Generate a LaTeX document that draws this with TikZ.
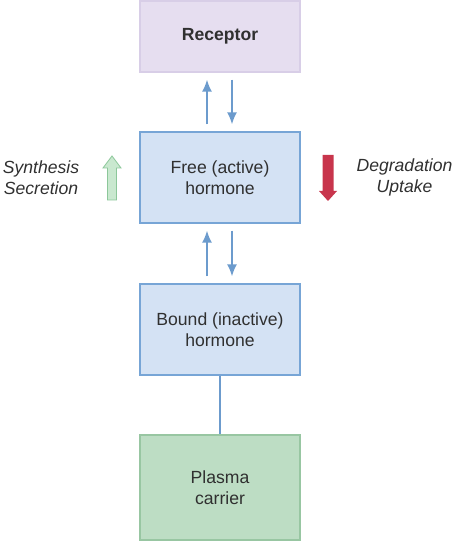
\documentclass[tikz,border=0pt]{standalone}
\usepackage{fontspec}
\setmainfont{Liberation Sans}
\usetikzlibrary{positioning, arrows.meta}

\definecolor{recepfill}{HTML}{E6DEF0}
\definecolor{recepline}{HTML}{D8CEE7}
\definecolor{freefill}{HTML}{D4E2F4}
\definecolor{freeline}{HTML}{77A5D6}
\definecolor{plasmafill}{HTML}{BDDDC4}
\definecolor{plasmaline}{HTML}{98C6A2}
\definecolor{flowblue}{HTML}{6C9BCD}
\definecolor{upgreen}{HTML}{C9E8CF}
\definecolor{upgreenline}{HTML}{8CC79A}
\definecolor{downred}{HTML}{C8354C}
\definecolor{ink}{HTML}{303030}

\tikzset{
  box/.style={rectangle, minimum width=160pt, minimum height=91pt, align=center,
    line width=1.3pt, text=ink, font=\fontsize{17.6}{21}\selectfont},
  lavbox/.style={box, fill=recepfill, draw=recepline, minimum height=71pt},
  bluebox/.style={box, fill=freefill, draw=freeline},
  greenbox/.style={box, fill=plasmafill, draw=plasmaline, minimum height=105pt},
  sidetext/.style={align=center, text=ink, font=\fontsize{17.6}{21}\selectfont\itshape},
  flow/.style={draw=flowblue, line width=1.7pt, -{Latex[length=12pt, width=10pt]}},
  link/.style={draw=flowblue, line width=1.7pt}
}

\begin{document}
\begin{tikzpicture}[x=1pt, y=1pt]
  \useasboundingbox (0,0) rectangle (455,543);

  \node[lavbox] (receptor) at (220,506.5) {\textbf{Receptor}};
  \node[bluebox] (free) at (220,365.5) {Free (active)\\hormone};
  \node[bluebox] (bound) at (220,213.5) {Bound (inactive)\\hormone};
  \node[greenbox] (plasma) at (220,55.5) {Plasma\\carrier};

  \node[sidetext] (synth) at (41,365.5) {Synthesis\\Secretion};
  \node[sidetext] (degr) at (404.5,365.5) {Degradation\\Uptake};

  % exchange arrows
  \draw[flow] ([xshift=-13pt, yshift=7pt]free.north) -- ([xshift=-13pt, yshift=-7pt]receptor.south);
  \draw[flow] ([xshift=12pt, yshift=-7pt]receptor.south) -- ([xshift=12pt, yshift=7pt]free.north);
  \draw[flow] ([xshift=-13pt, yshift=7pt]bound.north) -- ([xshift=-13pt, yshift=-7pt]free.south);
  \draw[flow] ([xshift=12pt, yshift=-7pt]free.south) -- ([xshift=12pt, yshift=7pt]bound.north);
  \draw[link] (bound) -- (plasma);

  % block arrows
  \filldraw[fill=upgreen, draw=upgreenline, line width=0.8pt]
    (107.5,343) -- (107.5,375) -- (103,375) -- (112,387) -- (121,375)
    -- (116.5,375) -- (116.5,343) -- cycle;
  \fill[downred] (322.5,388) -- (322.5,352) -- (319,352) -- (328,342)
    -- (337,352) -- (333.5,352) -- (333.5,388) -- cycle;
\end{tikzpicture}
\end{document}
